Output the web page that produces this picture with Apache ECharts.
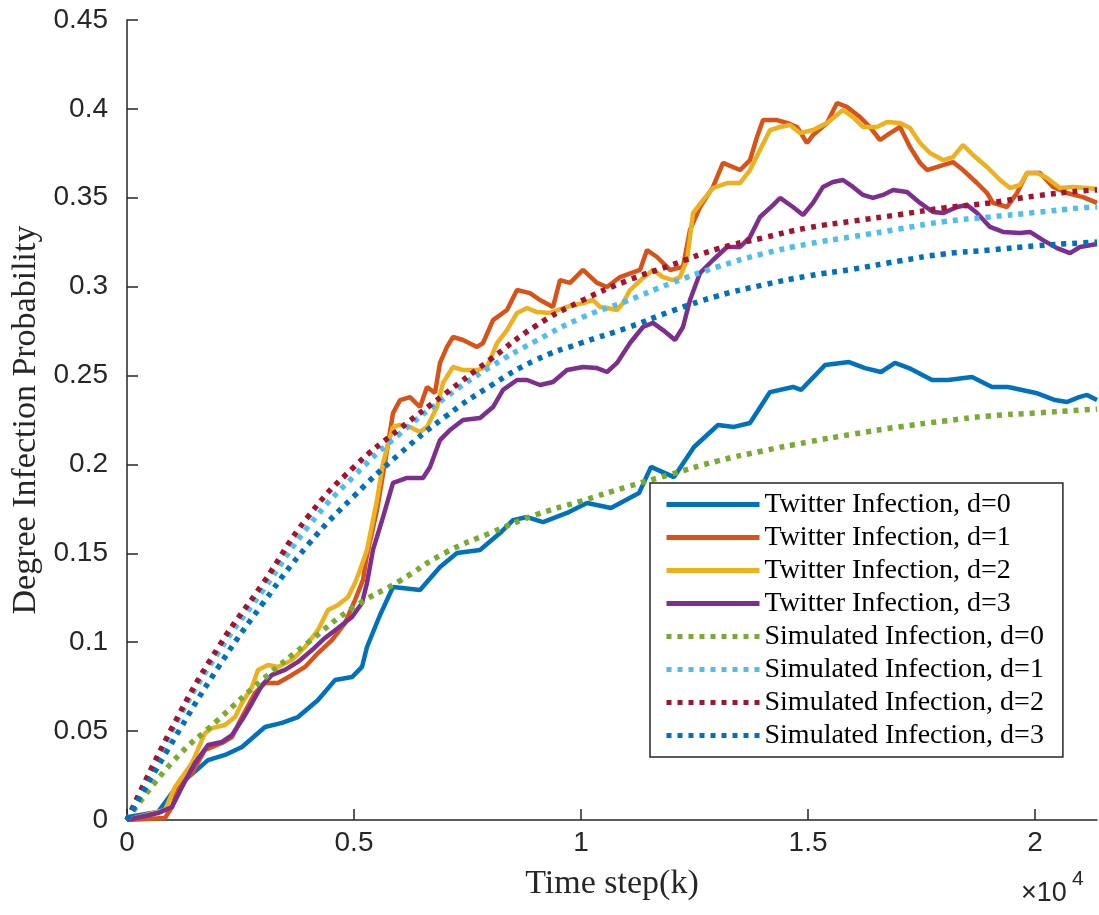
<!DOCTYPE html>
<html>
<head>
<meta charset="utf-8">
<script src="https://cdn.jsdelivr.net/npm/echarts@6/dist/echarts.min.js"></script>
<style>
html,body{margin:0;padding:0;background:#fff;}
#chart{width:1099px;height:915px;}
</style>
</head>
<body>
<div id="chart"></div>
<script>
// twitter curves, [time step, probability]
var twitterD0 = [[0,0],[22,0.0017],[683,0.0045],[991,0.0152],[1278,0.0225],[1784,0.0337],[2159,0.0366],[2533,0.0411],[3040,0.0523],[3414,0.0546],[3766,0.0579],[4207,0.0675],[4581,0.0787],[4956,0.0804],[5176,0.0861],[5286,0.0973],[5573,0.1153],[5859,0.1311],[6454,0.1294],[6894,0.1423],[7269,0.1502],[7775,0.1519],[8216,0.1614],[8502,0.1687],[8811,0.1704],[9163,0.1676],[9691,0.1727],[10132,0.1783],[10661,0.1755],[11277,0.1839],[11542,0.1986],[12048,0.1929],[12489,0.2098],[13017,0.2222],[13370,0.2211],[13722,0.2233],[14163,0.2407],[14669,0.2436],[14846,0.2419],[15374,0.2559],[15903,0.2576],[16255,0.2542],[16608,0.2520],[16916,0.2571],[17224,0.2542],[17731,0.2475],[18083,0.2475],[18612,0.2492],[19052,0.2436],[19405,0.2436],[20022,0.2402],[20440,0.2362],[20704,0.2351],[20969,0.2379],[21145,0.2391],[21365,0.2362]];
var twitterD1 = [[0,0],[837,0.0011],[991,0.0073],[1123,0.0186],[1432,0.0264],[1718,0.0394],[2092,0.0433],[2313,0.0467],[2533,0.0579],[2819,0.0714],[3040,0.0771],[3326,0.0771],[3634,0.0816],[3921,0.0861],[4207,0.0939],[4515,0.1012],[4802,0.1108],[5022,0.1237],[5198,0.1350],[5286,0.1491],[5507,0.1744],[5727,0.2081],[5859,0.2289],[6013,0.2362],[6233,0.2379],[6454,0.2323],[6608,0.2436],[6784,0.2402],[6894,0.2571],[7048,0.2661],[7180,0.2717],[7401,0.2700],[7709,0.2661],[7841,0.2683],[8062,0.2812],[8370,0.2869],[8590,0.2981],[8876,0.2964],[9097,0.2925],[9383,0.2886],[9537,0.3037],[9758,0.3021],[10044,0.3094],[10352,0.3021],[10573,0.2998],[10859,0.3054],[11300,0.3094],[11454,0.3206],[11674,0.3167],[11960,0.3094],[12246,0.3111],[12401,0.3319],[12621,0.3448],[12907,0.3561],[13128,0.3696],[13502,0.3656],[13722,0.3712],[13876,0.3842],[14009,0.3937],[14317,0.3937],[14537,0.3921],[14757,0.3898],[14978,0.3808],[15110,0.3853],[15418,0.3921],[15638,0.4033],[15859,0.4011],[16145,0.3954],[16365,0.3898],[16586,0.3825],[16806,0.3864],[17026,0.3898],[17246,0.3786],[17467,0.3696],[17621,0.3656],[17973,0.3684],[18193,0.3701],[18414,0.3656],[18722,0.3583],[18942,0.3527],[19075,0.3471],[19383,0.3448],[19603,0.3527],[19823,0.3639],[20110,0.3639],[20396,0.3561],[20704,0.3527],[21057,0.3504],[21365,0.3471]];
var twitterD2 = [[0,0],[837,0.0056],[1057,0.0186],[1432,0.0321],[1718,0.0489],[1872,0.0517],[2159,0.0534],[2379,0.0579],[2533,0.0658],[2753,0.0748],[2885,0.0844],[3106,0.0872],[3326,0.0861],[3634,0.0900],[3921,0.0973],[4207,0.1069],[4427,0.1181],[4648,0.1209],[4868,0.1254],[5022,0.1333],[5132,0.1406],[5286,0.1519],[5507,0.1800],[5639,0.2008],[5793,0.2154],[5859,0.2211],[6013,0.2222],[6233,0.2211],[6454,0.2182],[6608,0.2211],[6828,0.2323],[6960,0.2458],[7180,0.2548],[7401,0.2531],[7709,0.2531],[7929,0.2548],[8150,0.2683],[8370,0.2756],[8590,0.2852],[8811,0.2880],[9031,0.2857],[9317,0.2852],[9691,0.2886],[10044,0.2908],[10264,0.2925],[10418,0.2886],[10573,0.2880],[10793,0.2869],[10925,0.2908],[11079,0.2981],[11365,0.3049],[11586,0.3094],[11806,0.3054],[12026,0.3037],[12180,0.3054],[12335,0.3150],[12467,0.3414],[12687,0.3487],[12907,0.3555],[13216,0.3583],[13502,0.3583],[13722,0.3656],[13942,0.3769],[14163,0.3881],[14383,0.3898],[14603,0.3909],[14824,0.3864],[15110,0.3881],[15418,0.3921],[15771,0.3994],[15991,0.3954],[16211,0.3898],[16520,0.3898],[16740,0.3926],[17026,0.3921],[17246,0.3892],[17467,0.3808],[17687,0.3752],[17973,0.3712],[18193,0.3729],[18414,0.3797],[18634,0.3741],[18942,0.3673],[19229,0.3600],[19449,0.3555],[19669,0.3572],[19823,0.3639],[20044,0.3639],[20264,0.3611],[20550,0.3555],[20836,0.3561],[21145,0.3555],[21365,0.3549]];
var twitterD3 = [[0,0],[683,0.0039],[991,0.0073],[1211,0.0186],[1498,0.0321],[1784,0.0422],[2092,0.0439],[2313,0.0478],[2533,0.0562],[2753,0.0658],[2974,0.0759],[3194,0.0816],[3480,0.0844],[3766,0.0889],[4075,0.0956],[4361,0.1024],[4648,0.1080],[4956,0.1142],[5176,0.1221],[5286,0.1333],[5418,0.1519],[5639,0.1704],[5859,0.1896],[6167,0.1924],[6520,0.1924],[6674,0.1986],[6894,0.2137],[7114,0.2194],[7401,0.2250],[7775,0.2261],[8062,0.2323],[8282,0.2419],[8590,0.2475],[8811,0.2475],[9097,0.2447],[9383,0.2464],[9691,0.2531],[10044,0.2548],[10352,0.2542],[10573,0.2520],[10793,0.2571],[11079,0.2683],[11365,0.2773],[11586,0.2796],[11806,0.2756],[12070,0.2700],[12246,0.2773],[12401,0.2925],[12621,0.3077],[12907,0.3150],[13216,0.3223],[13502,0.3223],[13722,0.3279],[13942,0.3392],[14229,0.3459],[14383,0.3499],[14669,0.3448],[14890,0.3403],[15110,0.3471],[15330,0.3561],[15550,0.3589],[15771,0.3600],[15991,0.3561],[16211,0.3516],[16431,0.3499],[16652,0.3516],[16872,0.3544],[17180,0.3532],[17467,0.3471],[17753,0.3420],[17973,0.3414],[18282,0.3448],[18502,0.3459],[18722,0.3414],[19008,0.3336],[19295,0.3308],[19669,0.3302],[19889,0.3308],[20176,0.3262],[20484,0.3217],[20770,0.3189],[20990,0.3223],[21365,0.3240]];

// simulated curves share the same time steps
var simSteps = [0,1000,2000,3000,4000,5000,6000,7000,8000,9000,10000,11000,12000,13000,14000,15000,16000,17000,18000,19000,20000,21000,21365];
var simD0 = [0,0.0326,0.0562,0.0793,0.1001,0.1198,0.1344,0.1502,0.1614,0.1716,0.1794,0.1873,0.1946,0.2019,0.2076,0.2126,0.2171,0.2211,0.2244,0.2273,0.2289,0.2306,0.2312];
var simD1 = [0,0.0506,0.0939,0.1294,0.1654,0.1935,0.2171,0.2374,0.2548,0.2694,0.2824,0.2919,0.3021,0.3111,0.3184,0.3240,0.3282,0.3324,0.3366,0.3392,0.3417,0.3443,0.3448];
var simD2 = [0,0.0523,0.0967,0.1333,0.1710,0.1986,0.2199,0.2396,0.2590,0.2779,0.2919,0.3032,0.3122,0.3212,0.3274,0.3331,0.3369,0.3405,0.3443,0.3471,0.3510,0.3538,0.3544];
var simD3 = [0,0.0439,0.0855,0.1221,0.1552,0.1822,0.2059,0.2267,0.2441,0.2587,0.2683,0.2767,0.2863,0.2947,0.3009,0.3060,0.3099,0.3144,0.3184,0.3206,0.3229,0.3246,0.3251];

var xTicks = [0,5000,10000,15000,20000];
var xMax = 21365;

function pairUp(xs,ys){
	return xs.map(function(x,i){ return [x,ys[i]]; });
}

var axisColor = '#262626';
var serif = '"Liberation Serif", "DejaVu Serif", serif';
var sans = '"Liberation Sans", Arial, sans-serif';

function solid(name,data,color){
	return {
		name:name, type:'line', data:data, symbol:'none', smooth:false,
		lineStyle:{color:color,width:4.5},
		itemStyle:{color:color}
	};
}
function dotted(name,data,color){
	return {
		name:name, type:'line', data:data, symbol:'none', smooth:true,
		lineStyle:{color:color,width:5.5,type:[5,6],cap:'butt'},
		itemStyle:{color:color}
	};
}

var myChart = echarts.init(document.getElementById('chart'),null,{renderer:'canvas'});
var option = {
	animation:false,
	backgroundColor:'#fff',
	grid:{left:127,right:2,top:20,bottom:95},
	xAxis:{
		type:'value', min:0, max:xMax,
		name:'Time step(k)', nameLocation:'middle', nameGap:47,
		nameTextStyle:{fontFamily:serif,fontSize:34,color:axisColor},
		axisLine:{show:true,lineStyle:{color:axisColor,width:1.5}},
		axisTick:{show:true,inside:true,length:11,customValues:xTicks,lineStyle:{color:axisColor,width:1.5}},
		axisLabel:{customValues:xTicks,margin:9,fontFamily:sans,fontSize:28,color:axisColor,
			formatter:function(v){ return String(v/10000); }},
		splitLine:{show:false}
	},
	yAxis:{
		type:'value', min:0, max:0.45, interval:0.05,
		name:'Degree Infection Probability', nameLocation:'middle', nameGap:83,
		nameTextStyle:{fontFamily:serif,fontSize:34,color:axisColor},
		axisLine:{show:true,lineStyle:{color:axisColor,width:1.5}},
		axisTick:{show:true,inside:true,length:11,lineStyle:{color:axisColor,width:1.5}},
		axisLabel:{margin:19,fontFamily:sans,fontSize:28,color:axisColor,
			formatter:function(v){ return String(+v.toFixed(2)); }},
		splitLine:{show:false}
	},
	legend:{
		orient:'vertical', left:650, top:483,
		itemWidth:93, itemHeight:14, itemGap:0,
		padding:[5,19,5,14],
		backgroundColor:'#fff', borderColor:axisColor, borderWidth:1.5,
		itemStyle:{opacity:0},
		lineStyle:{width:5},
		textStyle:{fontFamily:serif,fontSize:28,color:'#000',lineHeight:33},
		data:['Twitter Infection, d=0','Twitter Infection, d=1','Twitter Infection, d=2','Twitter Infection, d=3',
			'Simulated Infection, d=0','Simulated Infection, d=1','Simulated Infection, d=2','Simulated Infection, d=3']
	},
	graphic:[
		{type:'text',left:1021,top:880,style:{text:'×10',fontFamily:sans,fontSize:27,fill:axisColor}},
		{type:'text',left:1072,top:869,style:{text:'4',fontFamily:sans,fontSize:21,fill:axisColor}}
	],
	series:[
		solid('Twitter Infection, d=0',twitterD0,'#0072BD'),
		solid('Twitter Infection, d=1',twitterD1,'#D95319'),
		solid('Twitter Infection, d=2',twitterD2,'#EDB120'),
		solid('Twitter Infection, d=3',twitterD3,'#7E2F8E'),
		dotted('Simulated Infection, d=0',pairUp(simSteps,simD0),'#77AC30'),
		dotted('Simulated Infection, d=1',pairUp(simSteps,simD1),'#4DBEEE'),
		dotted('Simulated Infection, d=2',pairUp(simSteps,simD2),'#A2142F'),
		dotted('Simulated Infection, d=3',pairUp(simSteps,simD3),'#0072BD')
	]
};
myChart.setOption(option);
</script>
</body>
</html>
